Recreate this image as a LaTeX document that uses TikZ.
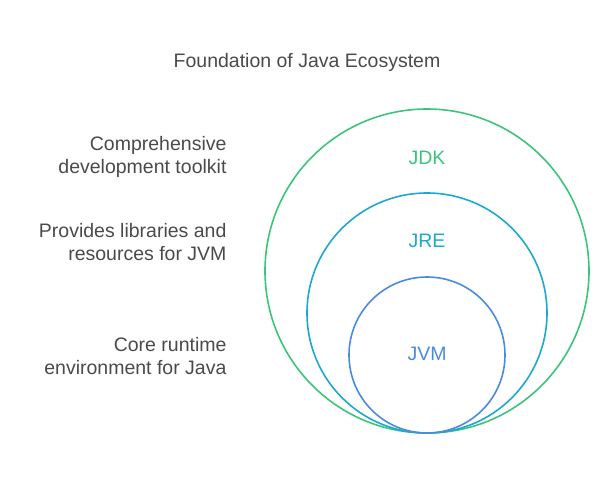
\documentclass[tikz,border=0pt]{standalone}
\usepackage{fontspec}
\setmainfont{Liberation Sans}
\definecolor{jdk}{HTML}{3CC47C}
\definecolor{jre}{HTML}{1DA8D0}
\definecolor{jvm}{HTML}{4A8BE0}
\definecolor{txt}{HTML}{4A4A4A}
\begin{document}
\begin{tikzpicture}[x=1pt,y=-1pt,
  ring/.style={draw=#1,line width=1.6pt,circle},
  lbl/.style={text=#1,font=\fontsize{19.5}{22}\selectfont},
  side/.style={text=txt,align=right,anchor=east,font=\fontsize{19.5}{23}\selectfont}]
\useasboundingbox (0,0) rectangle (614,483);
\draw[ring=jdk] (427,271) circle (162);
\draw[ring=jre] (427,313) circle (120);
\draw[ring=jvm] (427,355) circle (78);
\node[lbl=jdk] (jdk) at (427,158) {JDK};
\node[lbl=jre] (jre) at (427,241) {JRE};
\node[lbl=jvm] (jvm) at (427,354) {JVM};
\node[text=txt,font=\fontsize{19.5}{22}\selectfont] (title) at (307,62) {Foundation of Java Ecosystem};
\node[side] (d1) at (230,157) {Comprehensive\\development toolkit};
\node[side] (d2) at (230,242) {Provides libraries and\\resources for JVM};
\node[side] (d3) at (230,356) {Core runtime\\environment for Java};
\end{tikzpicture}
\end{document}
